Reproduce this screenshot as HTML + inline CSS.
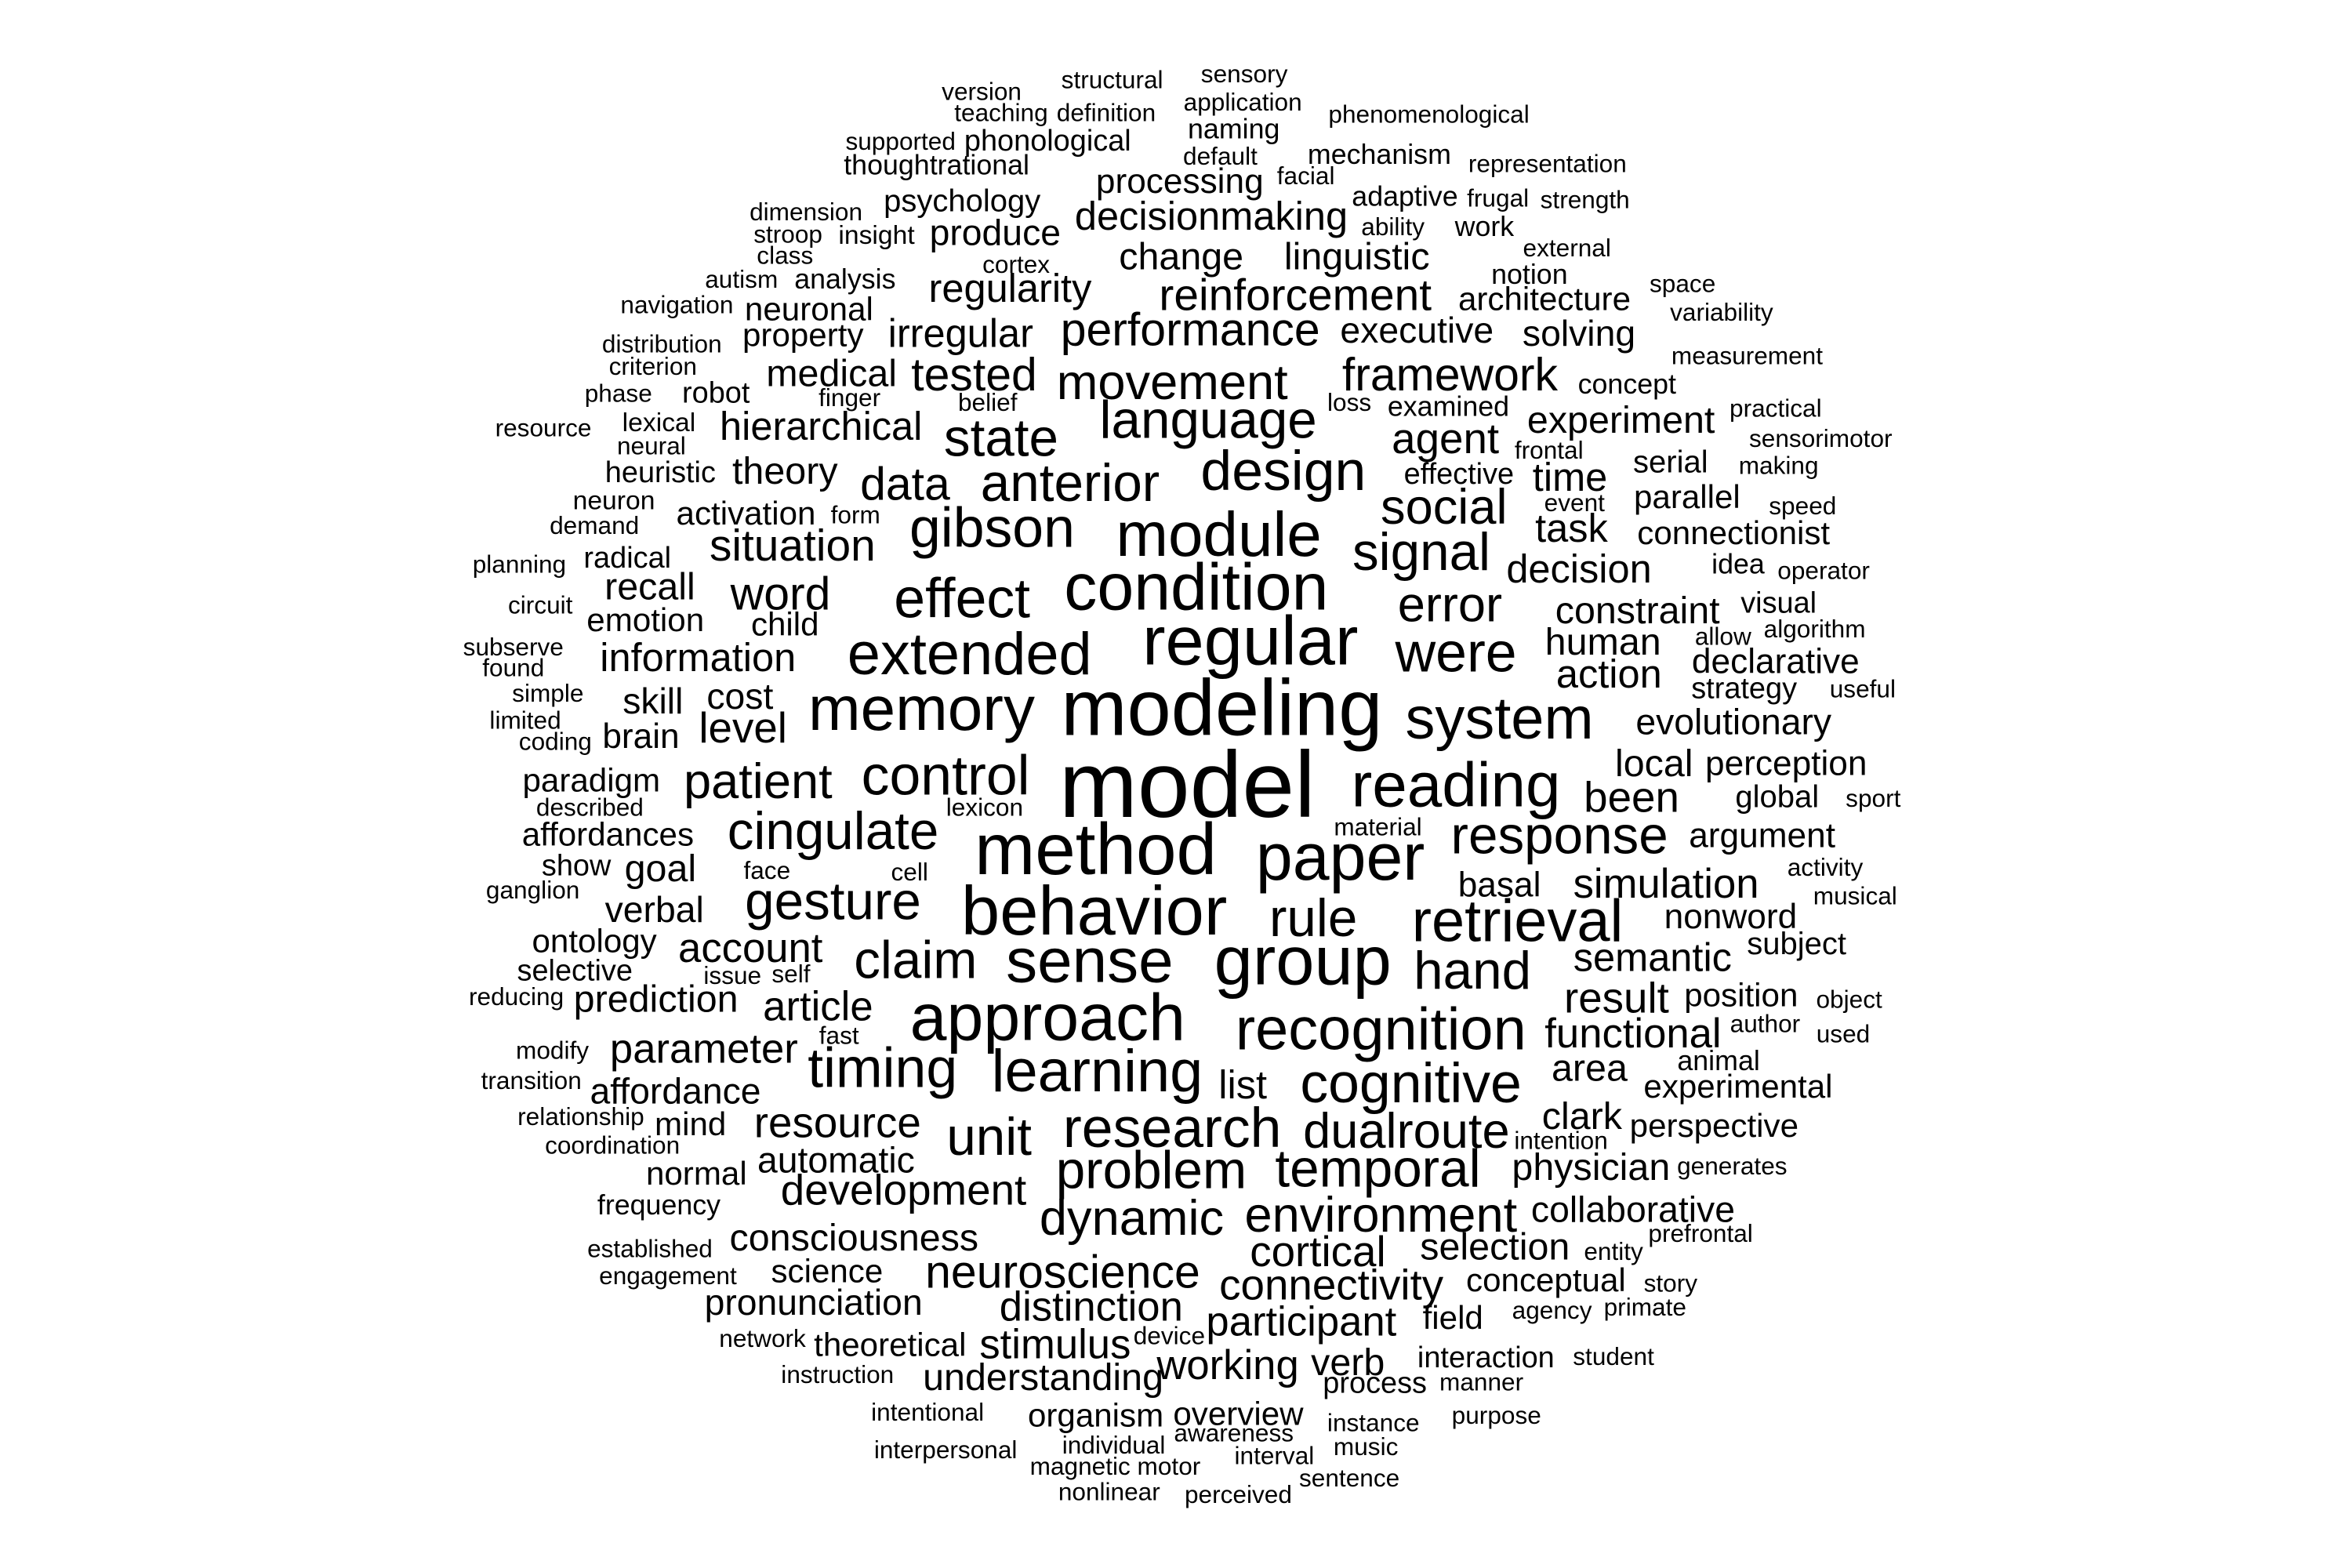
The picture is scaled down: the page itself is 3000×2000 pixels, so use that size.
<!DOCTYPE html>
<html>
<head>
<meta charset="utf-8">
<style>
html,body{margin:0;padding:0;background:#fff;}
svg{display:block;}
text{font-family:"Liberation Sans",Arial,sans-serif;fill:#000;}
</style>
</head>
<body>
<svg id="cloud" width="3000" height="2000" viewBox="0 0 1567 1045" preserveAspectRatio="none" xmlns="http://www.w3.org/2000/svg">
<rect width="1567" height="1045" fill="#fff"/>
</svg>
<script>
const words = ["version","structural","sensory","teaching","definition","application","phenomenological","supported","phonological","naming","thoughtrational","default","mechanism","representation","processing","facial","dimension","psychology","adaptive","frugal","strength","stroop","insight","produce","decisionmaking","ability","work","class","change","linguistic","cortex","external","autism","analysis","regularity","notion","space","navigation","neuronal","reinforcement","architecture","variability","property","irregular","performance","executive","solving","distribution","criterion","medical","tested","movement","framework","concept","measurement","phase","robot","finger","belief","loss","examined","practical","resource","lexical","language","experiment","agent","sensorimotor","neural","hierarchical","state","frontal","serial","making","heuristic","theory","data","anterior","design","effective","time","neuron","activation","form","event","parallel","speed","demand","gibson","module","social","task","connectionist","situation","signal","planning","radical","decision","idea","operator","recall","word","effect","condition","circuit","child","error","constraint","visual","algorithm","emotion","extended","regular","subserve","allow","were","human","found","information","declarative","action","simple","skill","cost","memory","modeling","system","strategy","useful","limited","evolutionary","level","coding","brain","model","reading","local","perception","paradigm","patient","control","been","global","sport","described","lexicon","cingulate","response","argument","affordances","material","method","paper","show","goal","face","cell","basal","simulation","activity","ganglion","gesture","behavior","verbal","rule","retrieval","nonword","musical","ontology","account","claim","sense","group","hand","semantic","subject","selective","issue","self","reducing","prediction","article","approach","recognition","result","position","object","fast","author","modify","parameter","functional","used","timing","learning","list","cognitive","area","animal","transition","affordance","experimental","relationship","mind","resource","unit","research","dualroute","clark","perspective","coordination","intention","automatic","problem","temporal","physician","generates","normal","development","frequency","dynamic","environment","collaborative","consciousness","cortical","selection","entity","prefrontal","established","science","neuroscience","connectivity","conceptual","story","engagement","pronunciation","distinction","field","agency","primate","network","theoretical","stimulus","device","participant","working","verb","student","interaction","instruction","understanding","process","manner","intentional","organism","overview","instance","purpose","awareness","individual","music","interpersonal","interval","magnetic motor","sentence","nonlinear","perceived"];
const sizes = [15,15,15,15,15,15,15,15,18,17,17,15,17,15,21,15,15,19,17,15,15,15,16,22,24,15,17,15,23,23,15,15,15,17,24,17,15,15,20,27,20,15,20,24,28,22,22,15,15,23,28,30,28,17,15,15,18,15,15,15,17,15,15,16,32,23,26,15,15,24,32,15,19,15,18,23,28,32,34,18,24,16,20,15,15,20,15,15,34,38,30,24,20,27,32,15,18,24,17,15,23,28,34,40,15,20,30,23,18,15,20,36,42,15,15,34,23,15,24,21,24,15,22,22,38,48,36,18,15,15,22,26,15,21,57,38,23,21,20,30,34,26,19,15,15,15,32,32,21,20,15,44,40,18,23,15,15,21,25,15,15,32,42,22,32,36,21,15,20,25,32,38,42,32,24,19,18,15,15,15,23,25,40,36,26,20,15,15,15,15,25,25,15,34,36,24,34,23,17,15,22,20,15,20,26,32,34,30,23,20,15,15,22,32,32,23,15,20,26,17,30,30,22,23,26,23,15,15,15,20,28,26,20,15,15,22,25,20,15,15,15,20,25,15,25,25,23,15,18,15,23,18,15,15,20,20,15,15,15,15,15,15,15,15,15,15,15];
const posX = [654,741,829,667,737,828,952,600,698,822,624,813,919,1031,786,870,537,641,936,998,1056,525,584,663,807,928,989,523,787,904,677,1044,494,563,673,1019,1121,451,539,863,1029,1147,535,640,793,944,1052,441,435,554,649,781,966,1084,1164,412,477,566,658,899,965,1183,362,439,805,1080,963,1213,434,547,667,1032,1113,1185,440,523,603,713,855,972,1046,409,497,570,1049,1124,1201,396,661,812,962,1047,1155,528,947,346,418,1052,1158,1215,433,520,641,797,360,523,966,1091,1185,1209,430,646,833,342,1148,970,1068,342,465,1183,1072,365,435,493,614,814,999,1162,1241,350,1155,495,370,427,791,970,1102,1190,394,505,630,1087,1184,1248,393,656,555,1039,1174,405,918,730,893,384,440,511,606,999,1110,1216,355,555,729,436,875,1011,1153,1236,396,500,610,726,868,981,1101,1197,383,488,527,344,437,545,698,920,1077,1160,1232,559,1176,368,469,1088,1228,588,731,828,940,1059,1145,354,450,1158,387,460,558,659,781,937,1054,1142,408,1040,557,767,918,1060,1154,464,602,439,754,920,1088,569,878,996,1075,1133,433,551,708,887,1030,1113,445,542,727,968,1034,1096,508,593,703,779,867,818,898,1075,990,558,695,916,987,618,730,825,915,997,822,742,910,630,849,743,899,739,825];
const posY = [61,53,49,75,75,68,76,94,94,86,110,104,103,109,121,117,141,134,131,132,133,156,157,155,144,151,151,170,171,171,176,165,186,186,192,183,189,203,206,197,199,208,223,222,220,220,222,229,244,249,250,255,250,256,237,262,262,265,268,268,271,272,285,282,280,280,292,292,297,284,292,300,308,310,315,314,323,322,314,316,318,334,342,343,335,331,337,350,352,356,338,352,355,364,368,376,372,379,376,380,391,396,399,391,403,416,403,407,402,419,413,436,427,431,424,435,428,445,438,441,449,462,467,464,472,472,479,459,459,480,481,485,494,491,523,523,509,509,520,521,517,531,531,532,538,538,554,557,557,556,551,566,571,577,579,580,581,590,589,578,593,601,607,606,612,614,611,597,627,632,640,640,640,647,638,629,647,650,649,664,666,671,678,686,665,663,666,690,682,700,699,689,689,712,714,723,722,712,707,720,727,724,744,749,748,758,752,754,744,750,763,760,773,780,779,778,777,782,793,803,812,810,806,825,834,831,834,822,832,847,848,856,853,855,850,868,871,878,873,871,892,896,896,890,881,910,908,904,905,916,918,922,921,941,943,942,948,943,955,963,964,966,970,977,985,994,996];

const SIZE_SCALE = 1.1;
const svg = document.getElementById('cloud');
const NS = 'http://www.w3.org/2000/svg';
for (let i = 0; i < words.length; i++) {
  const t = document.createElementNS(NS, 'text');
  t.setAttribute('x', posX[i]);
  t.setAttribute('y', posY[i]);
  t.setAttribute('font-size', sizes[i] * SIZE_SCALE);
  t.setAttribute('text-anchor', 'middle');
  t.setAttribute('dominant-baseline', 'central');
  
  
  t.textContent = words[i];
  svg.appendChild(t);
}
</script>
</body>
</html>
